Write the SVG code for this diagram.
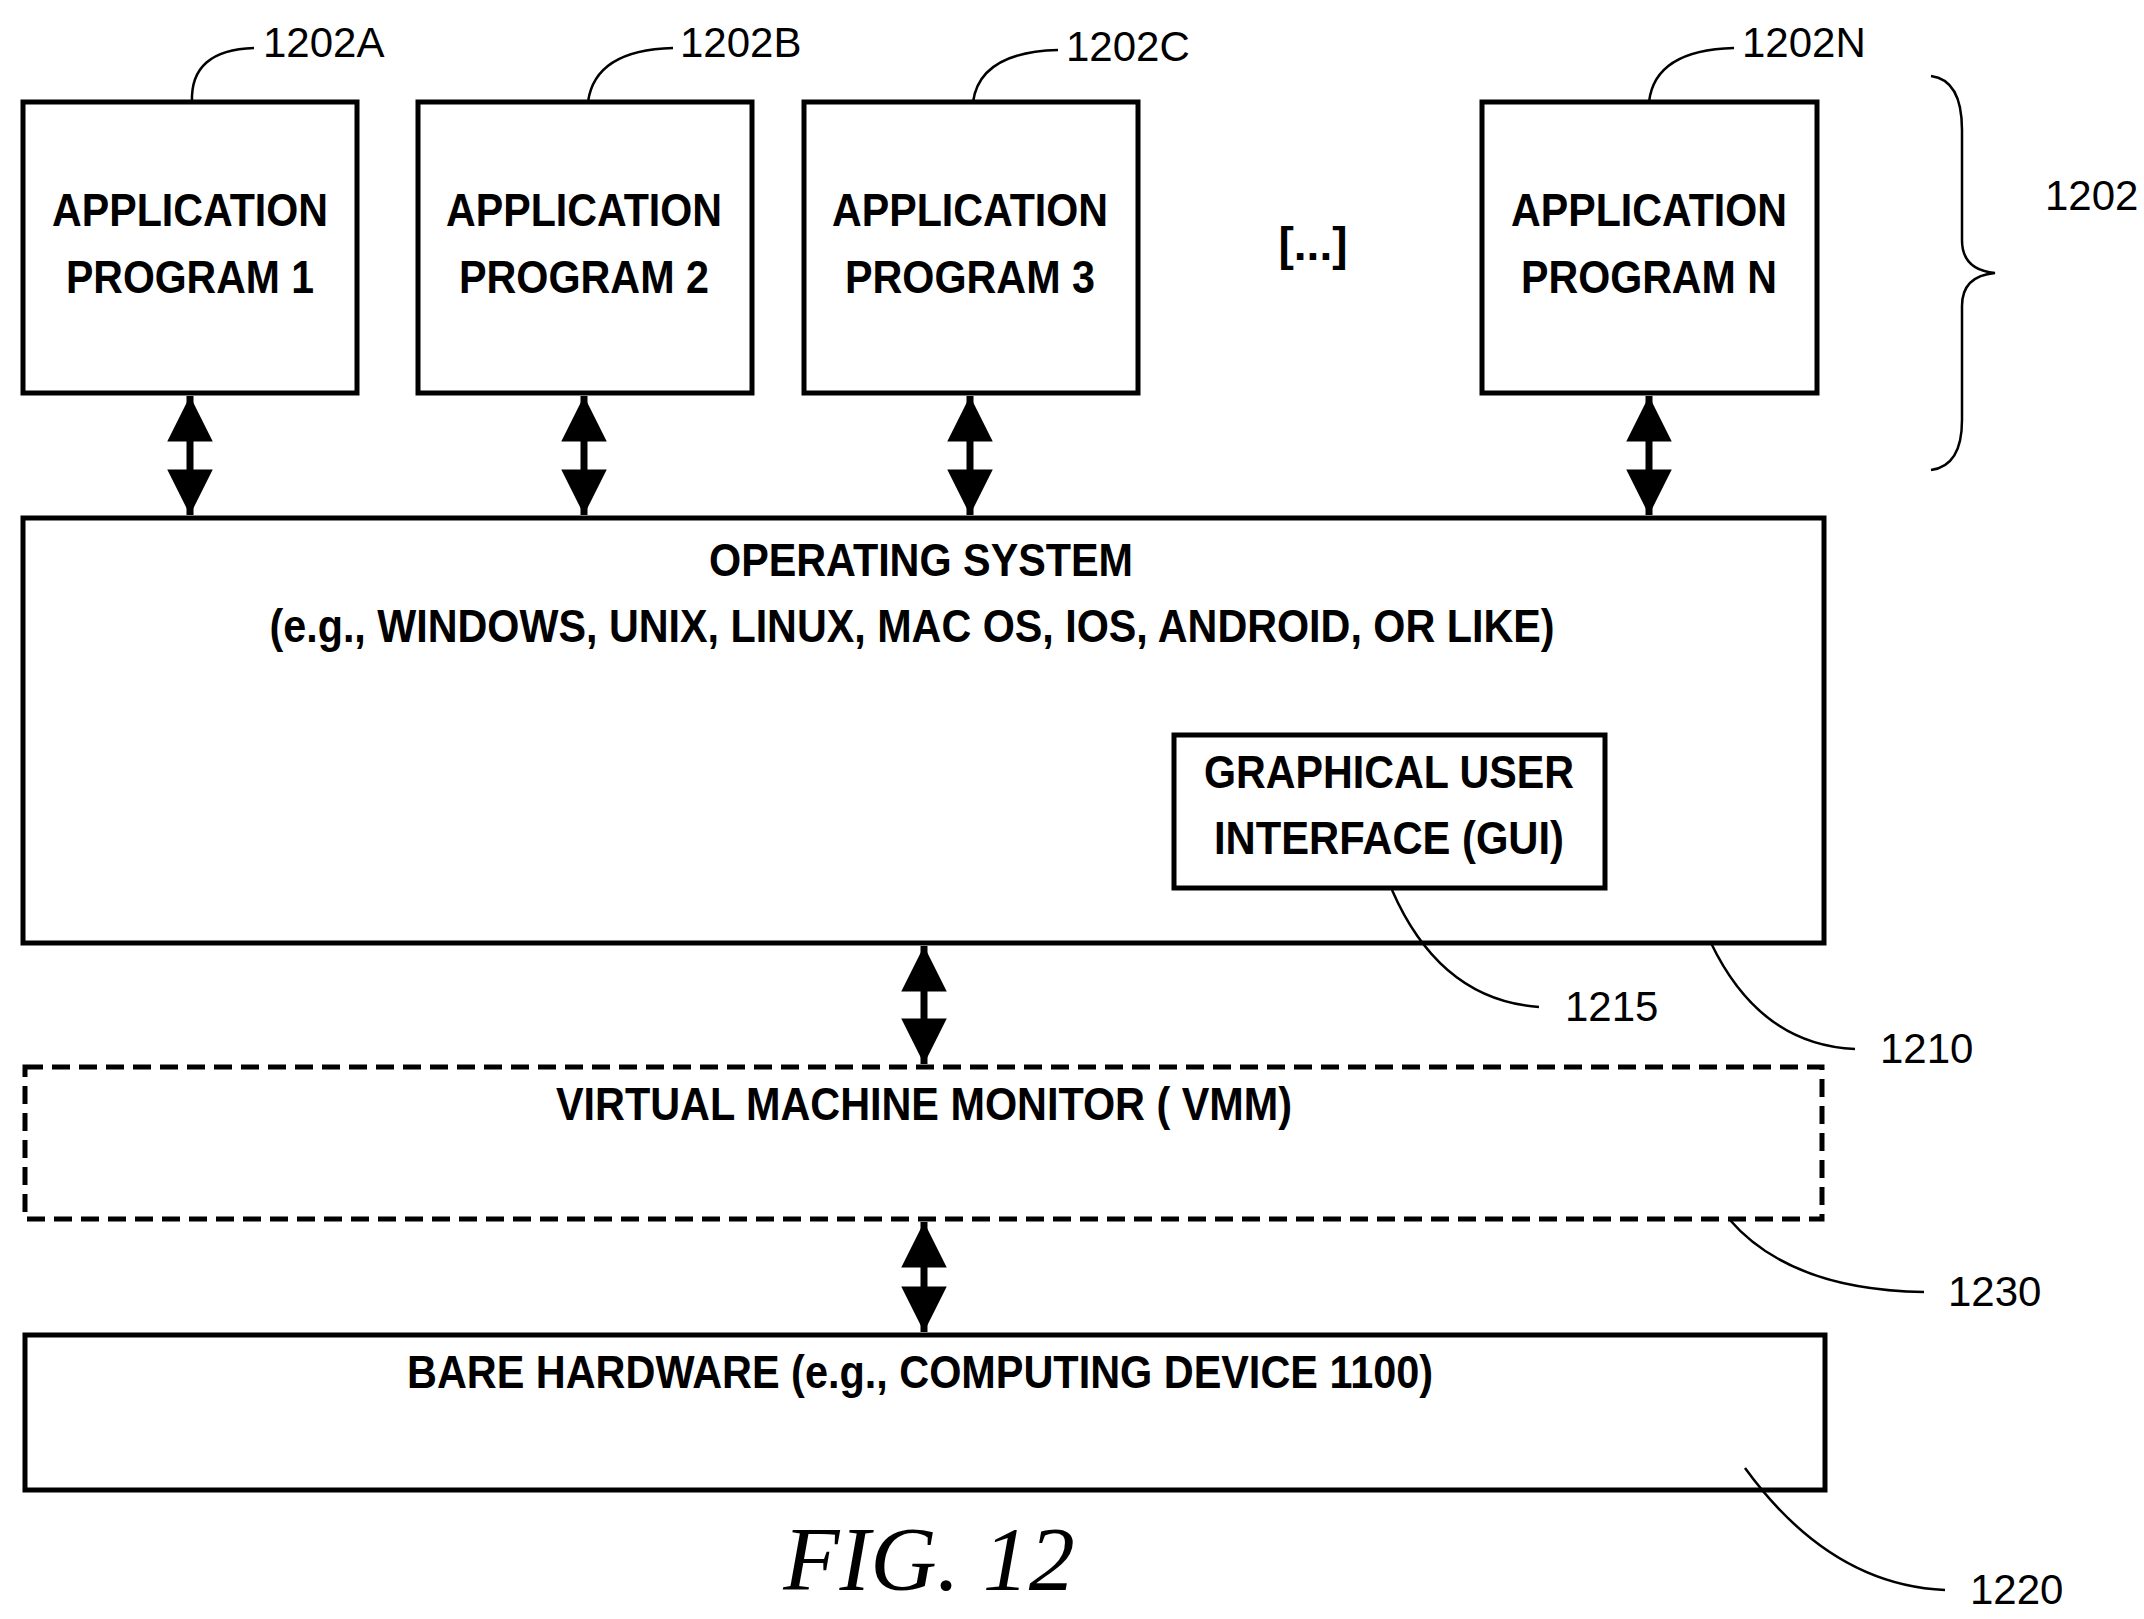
<svg xmlns="http://www.w3.org/2000/svg" width="2144" height="1619" viewBox="0 0 2144 1619">
<style>
.b{fill:#fff;stroke:#000;stroke-width:5}
.t{font-family:"Liberation Sans",Arial,sans-serif;font-weight:bold;font-size:46px;text-anchor:middle}
.n{font-family:"Liberation Sans",Arial,sans-serif;font-size:42px}
.l{fill:none;stroke:#000;stroke-width:2.5}
.s{stroke:#000;stroke-width:7}
</style>
<defs>
<marker id="a" viewBox="0 0 10 10" refX="10" refY="5" markerWidth="7" markerHeight="6.5" markerUnits="strokeWidth" orient="auto-start-reverse"><path d="M0,0L10,5L0,10z"/></marker>
</defs>
<g id="app1"><rect class="b" x="23" y="102" width="334" height="291"/><text class="t" x="190" y="226" textLength="276" lengthAdjust="spacingAndGlyphs">APPLICATION</text><text class="t" x="190" y="293" textLength="248" lengthAdjust="spacingAndGlyphs">PROGRAM 1</text></g>
<g id="app2"><rect class="b" x="418" y="102" width="334" height="291"/><text class="t" x="584" y="226" textLength="276" lengthAdjust="spacingAndGlyphs">APPLICATION</text><text class="t" x="584" y="293" textLength="250" lengthAdjust="spacingAndGlyphs">PROGRAM 2</text></g>
<g id="app3"><rect class="b" x="804" y="102" width="334" height="291"/><text class="t" x="970" y="226" textLength="276" lengthAdjust="spacingAndGlyphs">APPLICATION</text><text class="t" x="970" y="293" textLength="250" lengthAdjust="spacingAndGlyphs">PROGRAM 3</text></g>
<g id="dots"><text class="t" x="1313" y="260">[...]</text></g>
<g id="appN"><rect class="b" x="1482" y="102" width="335" height="291"/><text class="t" x="1649" y="226" textLength="276" lengthAdjust="spacingAndGlyphs">APPLICATION</text><text class="t" x="1649" y="293" textLength="256" lengthAdjust="spacingAndGlyphs">PROGRAM N</text></g>
<g id="brace"><path class="l" d="M1931,76 Q1962,80 1962,130 L1962,240 Q1962,270 1995,273 Q1962,276 1962,306 L1962,420 Q1962,466 1931,470"/><text class="n" x="2045" y="210">1202</text></g>
<g id="os"><rect class="b" x="23" y="518" width="1801" height="425"/><text class="t" x="921" y="576" textLength="424" lengthAdjust="spacingAndGlyphs">OPERATING SYSTEM</text><text class="t" x="912" y="642" textLength="1285" lengthAdjust="spacingAndGlyphs">(e.g., WINDOWS, UNIX, LINUX, MAC OS, IOS, ANDROID, OR LIKE)</text></g>
<g id="gui"><rect class="b" x="1174" y="735" width="431" height="153"/><text class="t" x="1389" y="788" textLength="370" lengthAdjust="spacingAndGlyphs">GRAPHICAL USER</text><text class="t" x="1389" y="854" textLength="350" lengthAdjust="spacingAndGlyphs">INTERFACE (GUI)</text></g>
<g id="vmm"><rect class="b" x="25" y="1067" width="1797" height="152" stroke-dasharray="18,9"/><text class="t" x="924" y="1120" textLength="736" lengthAdjust="spacingAndGlyphs">VIRTUAL MACHINE MONITOR ( VMM)</text></g>
<g id="hw"><rect class="b" x="25" y="1335" width="1800" height="155"/><text class="t" x="920" y="1388" textLength="1026" lengthAdjust="spacingAndGlyphs">BARE HARDWARE (e.g., COMPUTING DEVICE 1100)</text></g>
<g id="fig"><text x="929" y="1590" font-family="Liberation Serif,serif" font-style="italic" font-size="92" text-anchor="middle">FIG. 12</text></g>
<g id="connectors">
<line class="s" x1="190" y1="396" x2="190" y2="515" marker-start="url(#a)" marker-end="url(#a)"/>
<line class="s" x1="584" y1="396" x2="584" y2="515" marker-start="url(#a)" marker-end="url(#a)"/>
<line class="s" x1="970" y1="396" x2="970" y2="515" marker-start="url(#a)" marker-end="url(#a)"/>
<line class="s" x1="1649" y1="396" x2="1649" y2="515" marker-start="url(#a)" marker-end="url(#a)"/>
<line class="s" x1="924" y1="946" x2="924" y2="1064" marker-start="url(#a)" marker-end="url(#a)"/>
<line class="s" x1="924" y1="1222" x2="924" y2="1332" marker-start="url(#a)" marker-end="url(#a)"/>
<path class="l" d="M192,102 Q190,50 254,48"/>
<path class="l" d="M588,102 Q595,50 673,48"/>
<path class="l" d="M973,102 Q980,52 1058,50"/>
<path class="l" d="M1649,102 Q1655,50 1734,48"/>
<path class="l" d="M1392,890 Q1440,1000 1539,1007"/>
<path class="l" d="M1711,943 Q1760,1045 1855,1049"/>
<path class="l" d="M1729,1219 Q1790,1290 1924,1292"/>
<path class="l" d="M1745,1468 Q1830,1585 1945,1590"/>
</g>
<g id="labels">
<text class="n" x="263" y="57">1202A</text>
<text class="n" x="680" y="57">1202B</text>
<text class="n" x="1066" y="61">1202C</text>
<text class="n" x="1742" y="57">1202N</text>
<text class="n" x="1565" y="1021">1215</text>
<text class="n" x="1880" y="1063">1210</text>
<text class="n" x="1948" y="1306">1230</text>
<text class="n" x="1970" y="1604">1220</text>
</g>
</svg>
